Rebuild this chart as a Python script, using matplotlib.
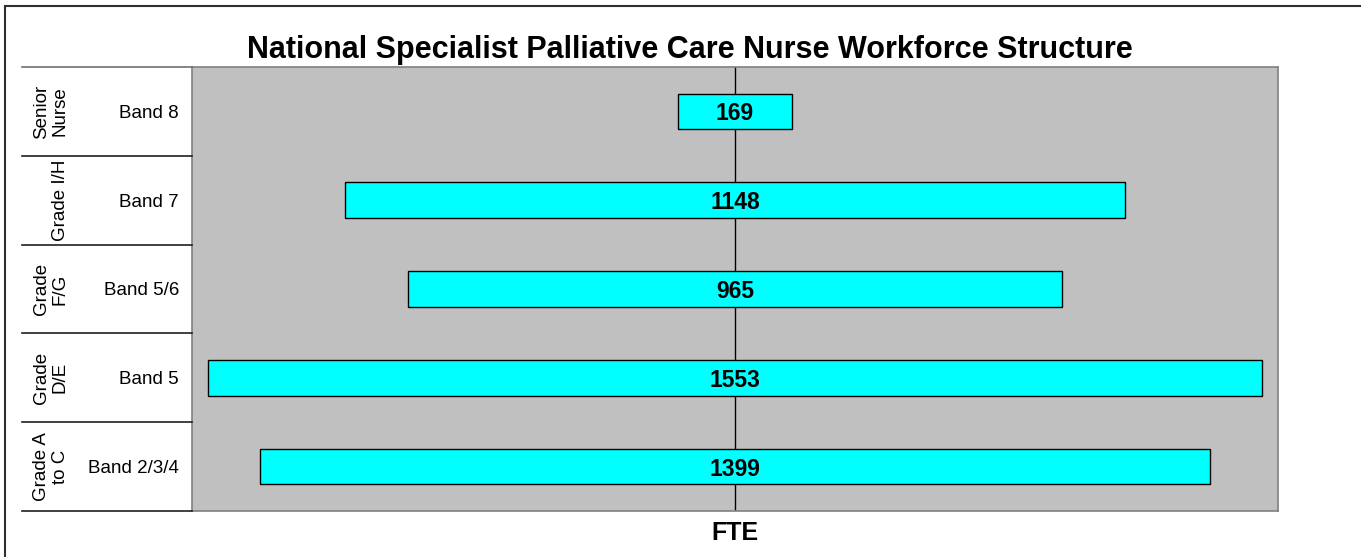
import matplotlib
matplotlib.use("Agg")
import matplotlib.pyplot as plt
from matplotlib.lines import Line2D
import numpy as np

plt.rcParams['font.family'] = ['Liberation Sans', 'DejaVu Sans']

bands = ["Band 8", "Band 7", "Band 5/6", "Band 5", "Band 2/3/4"]
grades = ["Senior\nNurse", "Grade I/H", "Grade\nF/G", "Grade\nD/E", "Grade A\nto C"]
fte = [169, 1148, 965, 1553, 1399]

title = "National Specialist Palliative Care Nurse Workforce Structure"
xlabel = "FTE"

W, H = 1361, 557
fig = plt.figure(figsize=(W / 100, H / 100), dpi=100)

def fx(px):
    return px / W

def fy(py):
    return 1 - py / H

left, right, top, bottom = 192, 1278, 67, 511
ax = fig.add_axes([fx(left), fy(bottom), fx(right - left), (bottom - top) / H])
ax.set_facecolor('#C0C0C0')
for s in ax.spines.values():
    s.set_color('#808080')
    s.set_linewidth(1.2)

vals = np.array(fte, dtype=float)
ypos = np.arange(len(vals))
ax.axvline(0, color='black', lw=1, zorder=1)
ax.barh(ypos, vals, left=-vals / 2, height=0.4, color='#00FFFF',
        edgecolor='black', linewidth=1, zorder=2)
for y, v in zip(ypos, vals):
    ax.text(0, y, f"{int(v)}", ha='center', va='center_baseline', fontsize=16.5,
            fontweight='bold', zorder=3)
ax.set_xlim(-800, 800)
ax.set_ylim(len(vals) - 0.5, -0.5)
ax.set_xticks([])
ax.set_yticks([])

# left category label area
lab_left = 22
cat_h = (bottom - top) / len(vals)
for i in range(len(vals) + 1):
    yy = top + i * cat_h
    fig.add_artist(Line2D([fx(lab_left), fx(left)], [fy(yy), fy(yy)],
                          color='#202020' if i > 0 else '#707070', lw=1.2))
for i, (b, g) in enumerate(zip(bands, grades)):
    yc = top + (i + 0.5) * cat_h
    fig.text(fx(179), fy(yc), b, ha='right', va='center_baseline', fontsize=13.5)
    fig.text(fx(69), fy(yc), g, ha='center', va='bottom', rotation=90,
             rotation_mode='anchor', fontsize=13.5, multialignment='center',
             linespacing=1.15)

# outer border (left and top)
fig.add_artist(Line2D([fx(5), fx(5)], [fy(6), 0], color='#303030', lw=1.5))
fig.add_artist(Line2D([fx(5), 1], [fy(6), fy(6)], color='#303030', lw=1.5))

fig.text(fx(690), fy(58), title, ha='center', va='baseline', fontsize=22,
         fontweight='bold')
fig.text(fx(735), fy(540), xlabel, ha='center', va='baseline', fontsize=18,
         fontweight='bold')

fig.savefig('out.png', dpi=100)
